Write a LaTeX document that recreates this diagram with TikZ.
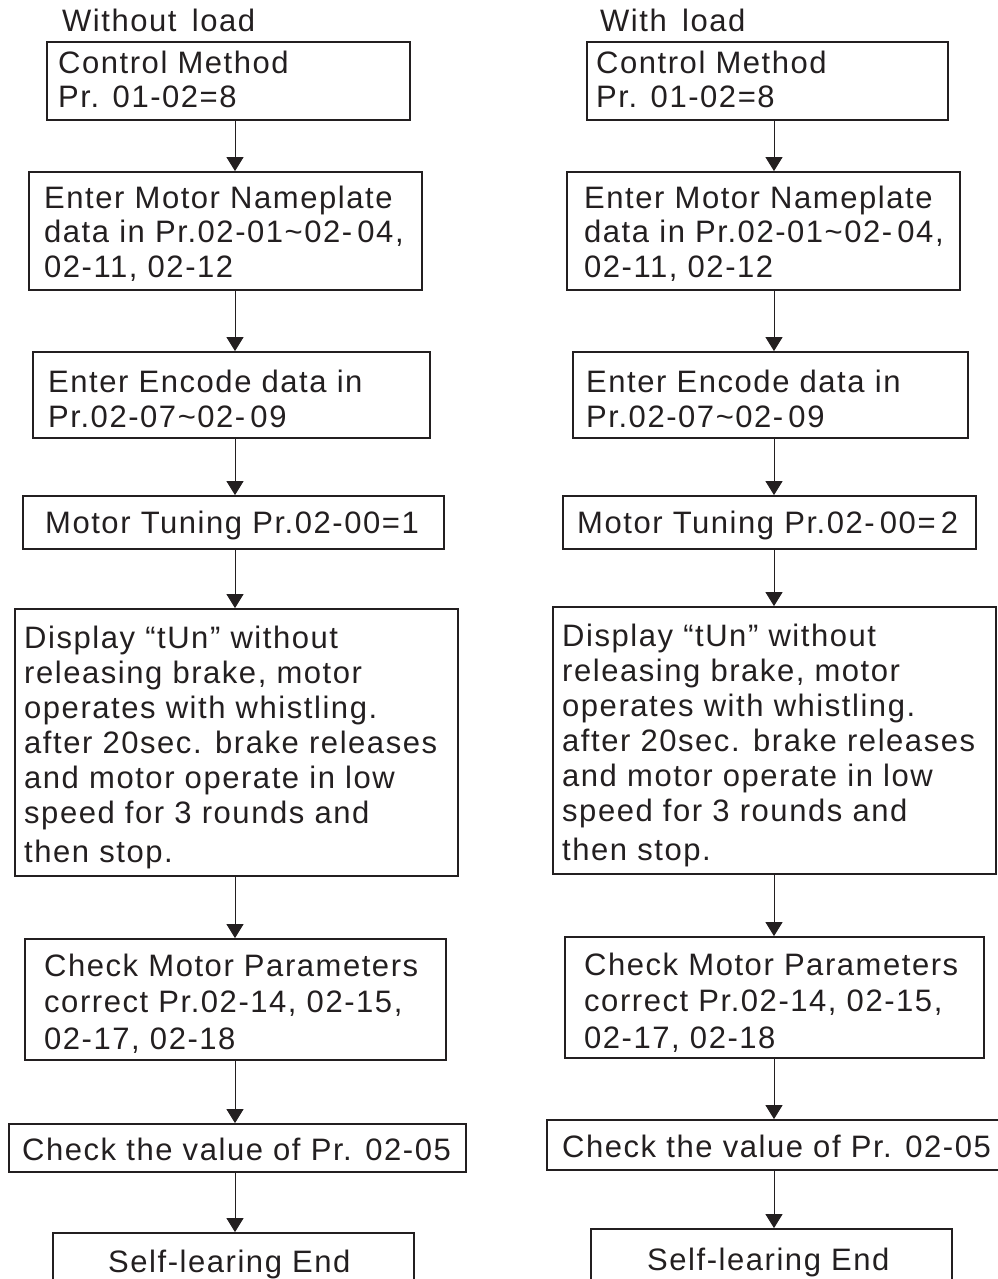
\documentclass[tikz,border=0pt]{standalone}
\usepackage{fontspec}
\setmainfont{Liberation Sans}[LetterSpace=5]
\usetikzlibrary{arrows.meta,fit}
\definecolor{ink}{HTML}{231F20}
\begin{document}
\begin{tikzpicture}[x=1pt,y=-1pt,
  box/.style={draw=ink,line width=1.8pt,inner sep=0pt,rectangle},
  txt/.style={inner sep=0pt,anchor=base west,align=left,text=ink,font={\fontsize{31}{34.5}\selectfont}},
  arr/.style={draw=ink,line width=1pt,-{Triangle[width=17pt,length=14pt]}}]
\useasboundingbox (0,0) rectangle (998,1279);
\coordinate (lx) at (235,0);
\coordinate (rx) at (774,0);
% left column
\node[txt] (Lt) at (62,32) {Without\, load};
\node[box,fit={(47,42) (410,120)}] (L1) {};
\node[box,fit={(29,172) (422,290)}] (L2) {};
\node[box,fit={(33,352) (430,438)}] (L3) {};
\node[box,fit={(23,496) (444,549)}] (L4) {};
\node[box,fit={(15,609) (458,876)}] (L5) {};
\node[box,fit={(25,939) (446,1060)}] (L6) {};
\node[box,fit={(9,1124) (466,1172)}] (L7) {};
\node[box,fit={(53,1233) (414,1300)}] (L8) {};
% multi-line texts are placed at the baseline of their last line
\node[txt] (L1t) at (58,108) {Control Method\\Pr. 01-02=8};
\node[txt] (L2t) at (44,277) {Enter Motor Nameplate\\data in Pr.02-01\textasciitilde 02-\,04,\\02-11, 02-12};
\node[txt] (L3t) at (48,427) {Enter Encode data in\\Pr.02-07\textasciitilde 02-\,09};
\node[txt] (L4t) at (45,533) {Motor Tuning Pr.02-00=1};
\node[txt] (L5t) at (24,862) {Display “tUn” without\\[0.5pt]releasing brake, motor\\[0.5pt]operates with whistling.\\[0.5pt]after 20sec. brake releases\\[0.5pt]and motor operate in low\\[0.5pt]speed for 3 rounds and\\[4pt]then stop.};
\node[txt] (L6t) at (44,1049) {Check Motor Parameters\\[2pt]correct Pr.02-14, 02-15,\\[2pt]02-17, 02-18};
\node[txt] (L7t) at (22,1160) {Check the value of Pr. 02-05};
\node[txt] (L8t) at (108,1272) {Self-learing End};
% right column
\node[txt] (Rt) at (600,32) {With\, load};
\node[box,fit={(587,42) (948,120)}] (R1) {};
\node[box,fit={(567,172) (960,290)}] (R2) {};
\node[box,fit={(573,352) (968,438)}] (R3) {};
\node[box,fit={(563,496) (976,549)}] (R4) {};
\node[box,fit={(553,607) (996,874)}] (R5) {};
\node[box,fit={(565,937) (984,1058)}] (R6) {};
\node[box,fit={(547,1120) (1010,1170)}] (R7) {};
\node[box,fit={(591,1229) (952,1300)}] (R8) {};
\node[txt] (R1t) at (596,108) {Control Method\\Pr. 01-02=8};
\node[txt] (R2t) at (584,277) {Enter Motor Nameplate\\data in Pr.02-01\textasciitilde 02-\,04,\\02-11, 02-12};
\node[txt] (R3t) at (586,427) {Enter Encode data in\\Pr.02-07\textasciitilde 02-\,09};
\node[txt] (R4t) at (577,533) {Motor Tuning Pr.02-\,00=\,2};
\node[txt] (R5t) at (562,860) {Display “tUn” without\\[0.5pt]releasing brake, motor\\[0.5pt]operates with whistling.\\[0.5pt]after 20sec. brake releases\\[0.5pt]and motor operate in low\\[0.5pt]speed for 3 rounds and\\[4pt]then stop.};
\node[txt] (R6t) at (584,1048) {Check Motor Parameters\\[2pt]correct Pr.02-14, 02-15,\\[2pt]02-17, 02-18};
\node[txt] (R7t) at (562,1157) {Check the value of Pr. 02-05};
\node[txt] (R8t) at (647,1270) {Self-learing End};
% arrows
\foreach \a/\b in {L1/L2,L2/L3,L3/L4,L4/L5,L5/L6,L6/L7,L7/L8}
  \draw[arr] (\a.south -| lx) -- (\b.north -| lx);
\foreach \a/\b in {R1/R2,R2/R3,R3/R4,R4/R5,R5/R6,R6/R7,R7/R8}
  \draw[arr] (\a.south -| rx) -- (\b.north -| rx);
\end{tikzpicture}
\end{document}
